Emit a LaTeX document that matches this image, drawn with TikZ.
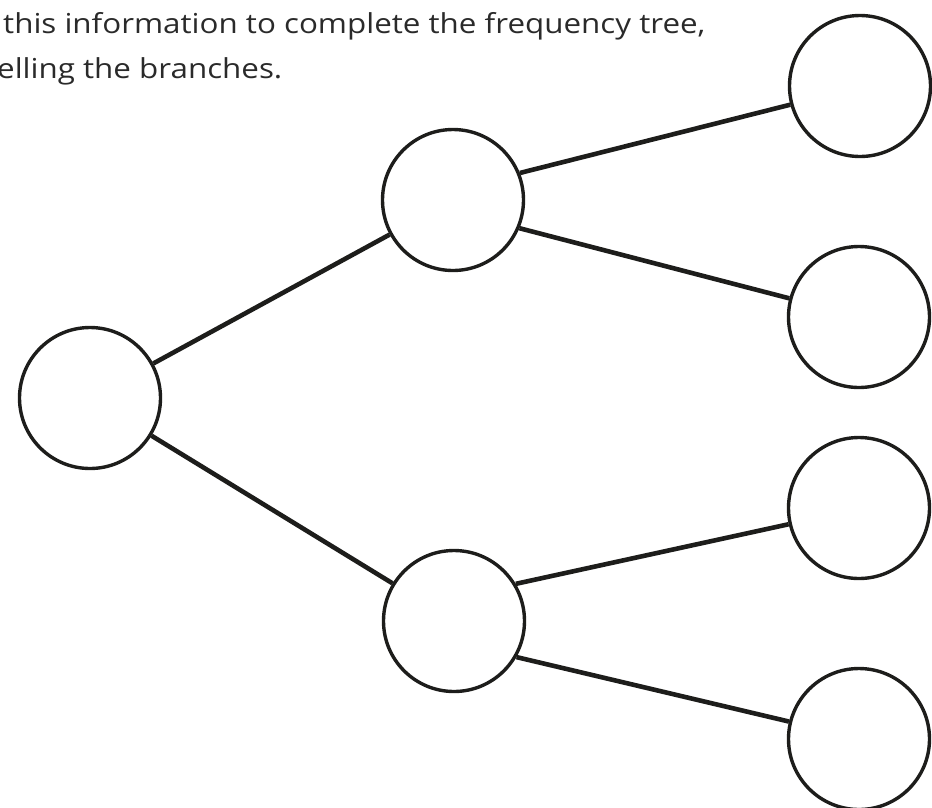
\documentclass[tikz,border=0pt]{standalone}
\usepackage{fontspec}
\setmainfont{Open Sans}
\newfontfamily\instrfont{Open Sans}[FakeStretch=1.14]
\usetikzlibrary{positioning}
\definecolor{inkdark}{HTML}{1D1D1B}
\definecolor{textdark}{HTML}{2A2A2A}

\begin{document}
\begin{tikzpicture}[x=1pt,y=-1pt,
	freq/.style={draw=inkdark, circle, line width=3.4pt, minimum size=141pt, inner sep=0pt},
	branch/.style={draw=inkdark, line width=4.6pt},
	instr/.style={anchor=base west, inner sep=0pt, text=textdark, font=\instrfont\fontsize{27.5}{32}\selectfont}]
	\useasboundingbox (0,0) rectangle (932,807);

	\node [instr] (line1) at (3,33) {this information to complete the frequency tree,};
	\node [instr] (line2) at (-3,78) {elling the branches.};

	\node [freq] (root) at (90,398) {};
	\node [freq] (upper) at (453,200) {};
	\node [freq] (lower) at (454,621) {};

	\node [freq] (upperA) at (860,86) {};
	\node [freq] (upperB) at (859,317) {};
	\node [freq] (lowerA) at (859,508) {};
	\node [freq] (lowerB) at (859,739) {};

	\draw [branch] (root) -- (upper);
	\draw [branch] (root) -- (lower);
	\draw [branch] (upper.22) -- (upperA.195);
	\draw [branch] (upper.-23) -- (upperB.165);
	\draw [branch] (lower.31) -- (lowerA.193);
	\draw [branch] (lower.-30) -- (lowerB.166);
\end{tikzpicture}
\end{document}
